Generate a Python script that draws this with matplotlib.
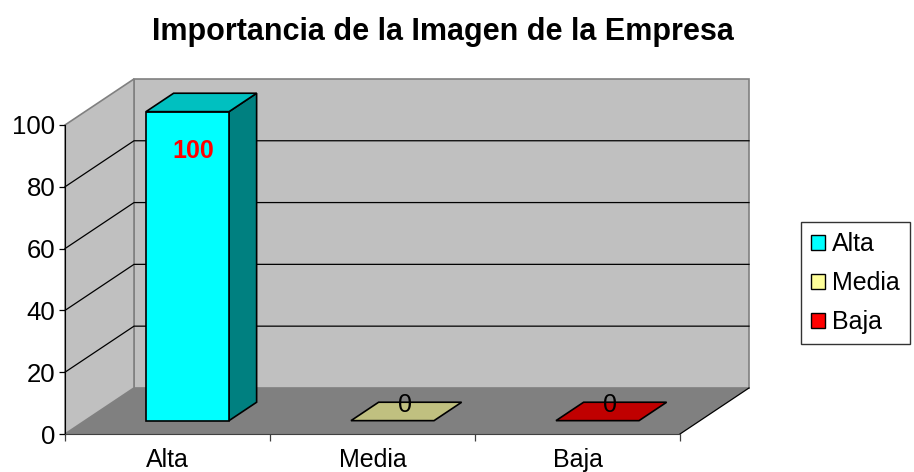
import numpy as np
import matplotlib.pyplot as plt
from matplotlib.patches import Polygon, Patch

plt.rcParams['font.family'] = ['Liberation Sans', 'DejaVu Sans']

# chart data
categories = ["Alta", "Media", "Baja"]
values = [100, 0, 0]
y_ticks = [0, 20, 40, 60, 80, 100]
title = "Importancia de la Imagen de la Empresa"

# face colours of each column (front, top, side)
front_cols = ["#00FFFF", "#FFFF99", "#FF0000"]
top_cols = ["#00C0C0", "#C0C080", "#C00000"]
side_cols = ["#008080", "#808040", "#800000"]

# depth of the 3d box, in data units (x: categories, y: values)
DX = 0.3366
DY = 14.9
# column placement inside the depth and column width
f0, f1 = 0.29, 0.69
bw = 0.405

FS = 18

fig = plt.figure(figsize=(9.14, 4.72), dpi=100)
fig.patch.set_facecolor("white")
ax = fig.add_axes([65 / 914, 38 / 472, 615 / 914, 309 / 472])
ax.set_xlim(0, len(categories))
ax.set_ylim(0, 100)
ax.patch.set_visible(False)
for s in ["top", "right"]:
    ax.spines[s].set_visible(False)
ax.spines["left"].set_color("black")
ax.spines["bottom"].set_color("#404040")

n = len(categories)
top = max(y_ticks)

def poly(pts, fc, ec="black", lw=1.0, z=1):
    p = Polygon(pts, closed=True, facecolor=fc, edgecolor=ec, linewidth=lw,
                zorder=z, clip_on=False, joinstyle="miter")
    ax.add_patch(p)

# floor, back wall and side wall
poly([(0, 0), (n, 0), (n + DX, DY), (DX, DY)], "#808080", ec="none", z=1)
poly([(DX, DY), (n + DX, DY), (n + DX, top + DY), (DX, top + DY)], "#C0C0C0",
     ec="#808080", lw=1.2, z=1)
poly([(0, 0), (DX, DY), (DX, top + DY), (0, top)], "#C0C0C0", ec="#808080", lw=1.2, z=1)
ax.plot([n, n + DX], [0, DY], color="black", lw=0.9, zorder=2, clip_on=False)

# gridlines across the side wall and the back wall
for t in y_ticks[1:-1]:
    ax.plot([0, DX, n + DX], [t, t + DY, t + DY], color="black", lw=0.9,
            zorder=2, clip_on=False)

# columns
for i, v in enumerate(values):
    x0 = i + 0.5 - bw / 2
    x1 = i + 0.5 + bw / 2
    fx0, fx1 = x0 + f0 * DX, x1 + f0 * DX
    fy = f0 * DY
    bx0, bx1 = x0 + f1 * DX, x1 + f1 * DX
    by = f1 * DY
    if v > 0:
        poly([(fx1, fy), (bx1, by), (bx1, by + v), (fx1, fy + v)], side_cols[i], lw=1.2, z=3)
        poly([(fx0, fy), (fx1, fy), (fx1, fy + v), (fx0, fy + v)], front_cols[i], lw=1.2, z=3)
    poly([(fx0, fy + v), (fx1, fy + v), (bx1, by + v), (bx0, by + v)], top_cols[i], lw=1.2, z=3)

    # value label
    cx = i + 0.5 + (f0 + f1) / 2 * DX
    cy = v + (f0 + f1) / 2 * DY
    if v >= top:
        ax.annotate(str(v), (cx, cy), xytext=(-6, -35), textcoords="offset points",
                    ha="center", va="center", color="#FF0000", fontsize=FS,
                    fontweight="bold", zorder=5, annotation_clip=False)
    else:
        ax.annotate(str(v), (cx, cy), xytext=(-1, -4), textcoords="offset points",
                    ha="center", va="bottom", color="black", fontsize=FS,
                    zorder=5, annotation_clip=False)

# axes ticks
ax.set_yticks(y_ticks)
ax.tick_params(axis="y", length=4, width=0.9, labelsize=18.5, pad=3)
ax.set_xticks(np.arange(n + 1))
ax.set_xticklabels([])
ax.set_xticks(np.arange(n) + 0.5, minor=True)
ax.set_xticklabels(categories, minor=True)
ax.tick_params(axis="x", which="major", length=5, width=0.9, color="#404040")
ax.tick_params(axis="x", which="minor", length=0, labelsize=FS, pad=10)

fig.text(443 / 914, 1 - 32 / 472, title, ha="center", va="center",
         fontsize=22, fontweight="bold")

handles = [Patch(facecolor=c, edgecolor="black", linewidth=1.0) for c in front_cols]
leg = fig.legend(handles, categories, loc="upper left",
                 bbox_to_anchor=(801 / 914, 1 - 222 / 472), fontsize=FS,
                 frameon=True, fancybox=False, edgecolor="black",
                 handlelength=0.55, handleheight=0.55, handletextpad=0.3,
                 borderpad=0.4, labelspacing=0.6, borderaxespad=0)
leg.get_frame().set_linewidth(1.0)

fig.savefig("out.png", dpi=100, facecolor="white")
